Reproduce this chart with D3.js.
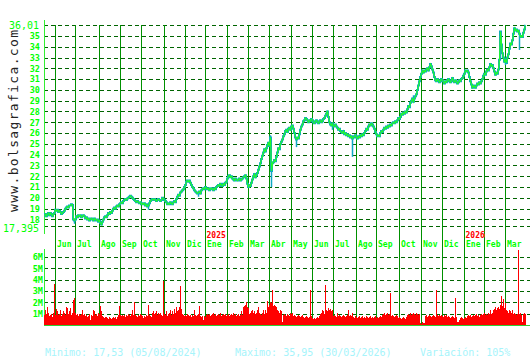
<!DOCTYPE html>
<html>
<head>
<meta charset="utf-8">
<script src="https://cdn.jsdelivr.net/npm/d3@7"></script>
<style>
body { margin: 0; background: #fff; }
svg { display: block; }
</style>
</head>
<body>
<div id="chart"></div>
<script>
// month labels and the trading-day index where each month starts
var months = ["Jun", "Jul", "Ago", "Sep", "Oct", "Nov", "Dic", "Ene", "Feb", "Mar", "Abr",
  "May", "Jun", "Jul", "Ago", "Sep", "Oct", "Nov", "Dic", "Ene", "Feb", "Mar"];
var monthStart = [11, 31, 55, 76, 97, 120, 141, 161, 183, 204, 225,
  247, 268, 289, 312, 332, 355, 377, 398, 420, 440, 461];
var years = ["2025", "2026"];
var yearStart = [161, 420];

var priceTicks = [18, 19, 20, 21, 22, 23, 24, 25, 26, 27, 28, 29, 30, 31, 32, 33, 34, 35];
var priceMin = 17.395, priceMax = 36.01;
var volumeTicks = [1, 2, 3, 4, 5, 6];

// daily close
var close = [
  18.4,18.5,18.3,18.5,18.6,18.4,18.6,18.5,18.3,18.5,
  18.6,18.9,18.8,18.9,18.7,18.8,18.7,18.5,18.6,18.7,
  18.8,19.0,19.1,19.2,19.1,19.3,19.3,19.4,19.35,18.0,
  17.9,18.0,18.3,18.2,18.4,18.3,18.4,18.2,18.3,18.4,
  18.3,18.1,18.2,18.0,18.1,17.9,18.0,18.1,18.0,17.9,
  18.1,18.0,17.9,18.0,17.8,17.9,17.7,17.53,17.8,18.0,
  18.2,18.3,18.2,18.4,18.6,18.5,18.7,18.6,18.8,19.0,
  19.1,19.0,19.2,19.3,19.2,19.4,19.5,19.6,19.5,19.7,
  19.8,19.9,19.8,19.95,20.0,20.1,20.2,20.1,20.0,19.9,
  19.8,19.7,19.6,19.7,19.6,19.5,19.6,19.4,19.5,19.4,
  19.5,19.3,19.4,19.2,19.3,19.5,19.7,19.8,19.9,19.8,
  19.9,19.8,19.7,19.8,19.9,19.8,19.7,19.8,20.0,19.9,
  19.8,19.7,19.6,19.4,19.5,19.4,19.6,19.5,19.4,19.6,
  19.7,19.6,19.9,20.1,20.3,20.2,20.5,20.6,20.7,20.8,
  21.0,21.2,21.5,21.6,21.5,21.6,21.4,21.2,21.0,20.9,
  20.7,20.6,20.5,20.4,20.5,20.6,20.4,20.7,20.8,20.9,
  20.8,21.0,20.9,20.8,20.9,20.7,20.8,20.9,20.8,20.7,
  20.9,20.8,21.0,21.1,21.2,21.1,21.3,21.2,21.1,21.3,
  21.2,21.4,21.5,21.8,22.0,22.1,21.9,22.0,21.8,21.7,
  21.6,21.8,21.7,21.6,21.7,21.8,21.6,21.7,21.8,21.9,
  22.0,22.1,21.8,21.3,21.0,21.2,21.1,21.4,21.7,22.0,
  22.2,21.9,22.1,22.3,22.6,22.9,23.2,23.6,23.9,24.2,
  24.5,24.3,24.6,24.9,25.1,24.8,25.6,22.5,23.2,23.3,
  23.5,23.4,23.8,24.2,24.6,24.5,25.0,25.2,25.4,25.7,
  25.9,26.2,26.3,26.1,26.4,26.5,26.3,26.6,26.7,26.4,
  26.0,25.6,25.4,25.6,25.5,25.9,26.3,26.6,26.8,27.1,
  27.2,27.4,27.3,27.2,27.0,27.2,27.1,27.3,27.2,27.0,
  26.9,27.1,27.2,27.0,26.9,27.1,27.2,27.0,27.1,27.3,
  27.4,27.6,27.8,28.0,27.5,27.0,26.8,26.7,26.9,26.6,
  26.7,26.8,26.6,26.5,26.3,26.4,26.2,26.1,26.0,26.2,
  25.9,26.0,25.8,25.9,25.7,25.8,25.6,25.7,25.5,25.6,
  25.7,25.8,25.6,25.5,25.7,25.6,25.8,25.7,25.9,25.8,
  26.0,26.2,26.4,26.3,26.6,26.8,26.7,26.9,26.8,26.6,
  26.4,26.1,25.9,25.7,25.8,25.7,26.0,26.2,26.1,26.3,
  26.5,26.4,26.6,26.5,26.7,26.6,26.8,26.7,26.9,27.0,
  26.9,27.1,27.0,27.2,27.4,27.3,27.5,27.8,27.7,27.9,
  27.8,28.0,27.9,28.2,28.5,28.4,28.8,29.0,29.2,28.9,
  29.2,29.4,29.6,30.0,30.4,30.8,31.2,31.5,31.8,31.6,
  31.8,31.7,31.9,32.0,31.8,32.1,32.4,32.2,31.9,31.6,
  31.2,30.9,30.8,31.0,30.9,30.7,30.8,31.0,30.9,30.8,
  30.6,30.8,30.7,30.9,31.0,30.8,30.7,30.9,31.1,30.8,
  30.7,30.9,30.8,30.6,30.7,30.9,30.8,31.0,31.1,31.3,
  31.5,31.8,31.7,31.8,31.6,31.2,30.8,30.5,30.2,30.4,
  30.3,30.2,30.4,30.6,30.5,30.7,30.6,30.8,31.0,31.3,
  31.5,31.4,31.7,31.9,31.8,32.1,32.4,32.2,32.3,32.0,
  31.7,31.4,31.6,31.5,31.9,32.8,35.4,34.2,33.4,33.0,
  32.6,32.8,32.5,33.0,33.3,33.8,34.3,34.2,34.6,35.2,
  35.7,35.5,35.6,35.4,35.5,35.2,34.9,35.0,34.9,35.3,
  35.6,35.95
];

// intraday ranges that stick out of the close line
var wickIdx = [30, 104, 154, 226, 227, 252, 288, 308, 369, 456, 461, 475];
var wickLow = [17.6, 18.9, 20.1, 24.9, 21.0, 24.7, 26.3, 23.8, 29.1, 32.8, 32.3, 33.7];
var wickHigh = [18.1, 19.4, 20.6, 25.8, 23.0, 25.6, 26.9, 25.6, 29.5, 35.4, 33.0, 35.2];

// daily volume, millions
var volume = [
  0.9,1.3,1.0,1.6,1.1,0.8,0.9,1.0,0.7,1.1,
  3.6,0.9,1.4,1.2,0.9,1.0,1.35,0.8,1.0,1.2,
  1.1,0.9,1.6,1.5,1.0,1.2,1.5,0.9,1.1,2.2,
  2.4,1.1,0.9,1.0,0.8,1.0,0.9,1.0,1.3,0.9,
  1.0,0.8,0.9,0.7,0.8,1.0,0.4,0.9,0.8,1.3,
  1.2,0.9,1.0,0.8,1.1,1.0,1.7,1.2,0.8,0.7,
  0.6,0.7,0.7,0.6,0.5,0.7,0.6,0.5,0.6,0.7,
  0.6,0.7,0.5,0.7,0.9,1.7,0.9,0.8,0.9,0.8,
  0.9,0.7,0.9,0.8,1.0,0.9,0.8,1.0,1.3,0.9,
  2.0,0.9,0.8,0.7,0.9,0.8,1.0,0.9,0.8,0.6,
  0.8,0.7,0.9,0.8,1.8,0.9,0.8,0.7,1.1,1.2,
  1.0,1.1,1.2,0.9,1.1,1.0,1.1,0.9,0.8,3.9,
  1.0,0.9,1.2,0.8,1.0,1.1,1.3,0.9,1.2,1.0,
  1.4,1.1,1.6,1.2,1.3,1.6,3.4,1.4,1.0,0.9,
  0.8,0.9,0.8,1.0,0.9,0.8,0.9,0.7,0.9,0.8,
  1.3,0.9,0.8,0.9,1.0,1.7,0.8,0.7,0.8,0.4,
  0.8,0.7,0.9,1.0,0.9,1.0,0.8,0.9,1.0,1.1,
  0.9,1.0,0.8,0.9,1.0,0.9,1.1,0.8,0.9,1.0,
  0.9,1.0,0.8,0.9,1.0,0.8,0.9,1.0,0.9,1.1,
  0.9,1.0,0.8,0.9,1.0,0.8,0.9,1.2,0.9,1.6,
  1.7,1.8,2.0,1.6,1.5,1.0,1.1,1.2,1.3,1.1,
  1.2,1.0,1.1,1.3,1.6,1.1,1.0,0.9,1.1,1.3,
  1.0,1.3,1.1,2.1,1.6,1.8,2.0,1.9,3.1,1.7,
  1.8,1.7,1.6,1.3,1.2,1.1,1.3,1.2,0.3,0.9,
  1.0,0.9,0.8,1.0,0.9,0.8,1.1,1.0,1.1,0.8,
  0.9,0.8,0.7,0.8,0.9,0.8,0.7,0.8,0.9,0.7,
  0.6,0.7,0.8,0.7,0.6,0.7,3.1,0.8,0.6,0.5,
  0.6,0.5,0.6,0.7,0.6,0.8,1.0,1.1,1.3,1.2,
  1.0,3.5,1.3,1.2,1.5,1.3,1.4,1.2,1.3,0.8,
  0.9,0.8,0.7,1.1,0.8,0.9,0.8,0.7,0.8,0.9,
  0.8,0.7,0.8,0.9,1.3,0.8,0.9,0.8,1.1,0.7,
  0.6,0.8,0.7,0.6,0.7,0.8,0.6,0.7,0.8,0.6,
  0.7,0.6,0.8,0.7,0.6,0.7,0.8,0.6,0.7,0.6,
  0.7,0.8,0.6,0.7,0.6,0.7,0.8,0.7,0.9,1.0,
  1.1,0.9,1.0,1.1,0.9,1.0,2.8,0.8,0.9,0.8,
  0.7,0.8,0.9,0.8,0.6,0.7,0.6,0.5,0.6,0.7,
  0.6,0.5,0.7,0.9,1.0,0.9,1.1,0.9,1.0,1.1,
  1.0,0.9,1.1,1.0,0.9,1.0,0.2,0.1,0.3,0.2,
  0.2,0.8,0.9,0.7,0.8,0.9,0.8,0.7,0.8,0.9,
  0.8,0.7,3.1,0.9,0.8,0.9,0.8,0.9,0.8,0.7,
  0.9,0.8,0.9,0.7,0.8,0.7,0.6,0.7,0.8,0.7,
  0.6,2.4,0.7,0.3,0.3,0.4,0.6,0.7,0.6,0.5,
  0.6,0.7,0.6,0.8,0.9,0.8,0.9,0.7,0.8,0.9,
  0.8,0.9,1.0,0.8,0.9,0.7,0.9,1.0,0.9,1.0,
  1.1,0.9,1.0,0.9,1.1,1.0,1.3,1.0,1.1,1.3,
  1.4,1.6,1.3,1.5,1.6,1.4,1.8,2.6,1.7,2.3,
  1.5,1.9,1.3,1.2,1.1,1.3,1.2,1.1,1.3,1.0,
  1.1,1.0,0.9,1.0,6.6,1.0,1.1,0.9,0.3,1.0,
  1.1,1.0
];

var summary = ["Minimo: 17,53 (05/08/2024)", "Maximo: 35,95 (30/03/2026)", "Variación: 105%"];

drawChart();

function drawChart() {
  var svg = d3.select("#chart").append("svg")
    .attr("width", 530)
    .attr("height", 360);

  var left = 44, right = 530;
  var x = d3.scaleLinear().domain([0, close.length - 1]).range([44, 525]);
  var y = d3.scaleLinear().domain([priceMin, priceMax]).range([226, 25]);
  var yVol = d3.scaleLinear().domain([0, 6]).range([325, 257]);

  /* watermark */
  svg.append("text")
    .attr("transform", "translate(18,212) rotate(-90)")
    .attr("textLength", 182)
    .attr("lengthAdjust", "spacing")
    .attr("fill", "#222")
    .style("font", "13px 'DejaVu Sans Mono'")
    .text("www.bolsagrafica.com");

  var grid = svg.append("g").attr("shape-rendering", "crispEdges");

  // horizontal dashed lines, price panel
  grid.selectAll(".hp")
    .data(priceTicks.concat([priceMin, priceMax]))
    .enter().append("line")
    .attr("x1", left).attr("x2", right)
    .attr("y1", function (d) { return Math.round(y(d)) + 0.5; })
    .attr("y2", function (d) { return Math.round(y(d)) + 0.5; })
    .attr("stroke", "#006400")
    .attr("stroke-dasharray", "4,3");

  // horizontal dashed lines, volume panel
  grid.selectAll(".hv")
    .data(volumeTicks)
    .enter().append("line")
    .attr("x1", left).attr("x2", right)
    .attr("y1", function (d) { return Math.round(yVol(d)) + 0.5; })
    .attr("y2", function (d) { return Math.round(yVol(d)) + 0.5; })
    .attr("stroke", "#006400")
    .attr("stroke-dasharray", "4,3");

  // month lines
  grid.selectAll(".vm")
    .data(monthStart)
    .enter().append("line")
    .attr("x1", function (d) { return Math.round(x(d)) + 0.5; })
    .attr("x2", function (d) { return Math.round(x(d)) + 0.5; })
    .attr("y1", 25).attr("y2", 326)
    .attr("stroke", "#009000");

  // axis lines
  grid.append("line").attr("x1", 44.5).attr("x2", 44.5).attr("y1", 20).attr("y2", 234).attr("stroke", "#33ee33");
  grid.append("line").attr("x1", 44.5).attr("x2", 44.5).attr("y1", 249).attr("y2", 326).attr("stroke", "#33ee33");

  /* volume bars */
  svg.append("g").attr("shape-rendering", "crispEdges")
    .selectAll("rect")
    .data(volume)
    .enter().append("rect")
    .attr("x", function (d, i) { return x(i); })
    .attr("y", function (d) { return yVol(d); })
    .attr("width", x(1) - x(0))
    .attr("height", function (d) { return yVol(0) - yVol(d); })
    .attr("fill", "#ff0000");

  grid.append("line").attr("x1", left).attr("x2", right).attr("y1", 325.5).attr("y2", 325.5).attr("stroke", "#33cc33");

  /* price */
  var line = d3.line()
    .x(function (d, i) { return x(i) + 0.5; })
    .y(function (d) { return y(d); });

  svg.append("path")
    .datum(close)
    .attr("d", line.curve(d3.curveStep))
    .attr("fill", "none")
    .attr("stroke", "#10a8c4")
    .attr("stroke-width", 2);

  svg.selectAll(".wick")
    .data(wickIdx)
    .enter().append("line")
    .attr("x1", function (d) { return x(d) + 0.5; })
    .attr("x2", function (d) { return x(d) + 0.5; })
    .attr("y1", function (d, i) { return y(wickLow[i]); })
    .attr("y2", function (d, i) { return y(wickHigh[i]); })
    .attr("stroke", "#10a8c4")
    .attr("stroke-width", 1.5);

  svg.append("path")
    .datum(close)
    .attr("d", line.curve(d3.curveLinear))
    .attr("fill", "none")
    .attr("stroke", "#22ff22")
    .attr("stroke-width", 1.1);

  /* axes */
  var gy = svg.append("g")
    .attr("transform", "translate(40,0)")
    .call(d3.axisLeft(y).tickValues(priceTicks).tickSize(0).tickPadding(0).tickFormat(d3.format("d")));
  gy.select(".domain").remove();
  gy.selectAll("text").attr("fill", "#00ff00").style("font", "bold 8.5px 'DejaVu Sans Mono'");

  var edgeWidth = [30, 36];
  svg.selectAll(".edge")
    .data([priceMax, priceMin])
    .enter().append("text")
    .attr("x", function (d, i) { return 39 - edgeWidth[i]; })
    .attr("y", function (d) { return y(d); })
    .attr("dy", function (d, i) { return i ? "0.5em" : "0.36em"; })
    .attr("textLength", function (d, i) { return edgeWidth[i]; })
    .attr("lengthAdjust", "spacingAndGlyphs")
    .attr("fill", "#00ff00")
    .style("font", "11px 'DejaVu Sans Mono'")
    .text(function (d) { return String(d).replace(".", ","); });

  var gv = svg.append("g")
    .attr("transform", "translate(43,0)")
    .call(d3.axisLeft(yVol).tickValues(volumeTicks).tickSize(0).tickPadding(0)
      .tickFormat(function (d) { return d + "M"; }));
  gv.select(".domain").remove();
  gv.selectAll("text").attr("fill", "#00ff00").style("font", "bold 8.5px 'DejaVu Sans Mono'");

  var gx = svg.append("g")
    .attr("transform", "translate(0,240)")
    .call(d3.axisBottom(x).tickValues(monthStart).tickSize(0).tickPadding(0)
      .tickFormat(function (d, i) { return months[i]; }));
  gx.select(".domain").remove();
  gx.selectAll("text")
    .attr("text-anchor", "start")
    .attr("dx", 1.5)
    .attr("y", 7)
    .attr("dy", 0)
    .attr("fill", "#00ff00")
    .style("font", "bold 8px 'DejaVu Sans Mono'");

  svg.selectAll(".year")
    .data(years)
    .enter().append("text")
    .attr("x", function (d, i) { return x(yearStart[i]) + 1.5; })
    .attr("y", 238)
    .attr("fill", "#ff0000")
    .style("font", "bold 8px 'DejaVu Sans Mono'")
    .text(function (d) { return d; });

  /* summary line */
  svg.selectAll(".summary")
    .data(summary)
    .enter().append("text")
    .attr("x", function (d, i) { return [45, 235, 420][i]; })
    .attr("y", 356)
    .attr("fill", "#a6f4fb")
    .style("font", "10px 'DejaVu Sans Mono'")
    .text(function (d) { return d; });
}
</script>
</body>
</html>
